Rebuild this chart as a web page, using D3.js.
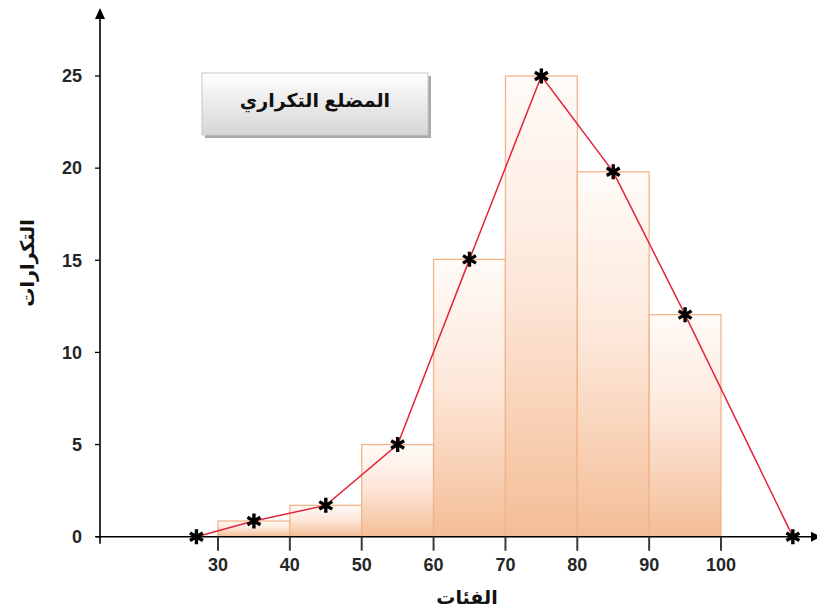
<!DOCTYPE html>
<html>
<head>
<meta charset="utf-8">
<script src="https://cdn.jsdelivr.net/npm/d3@7"></script>
<style>
  html, body { margin: 0; padding: 0; background: #ffffff; }
  svg { display: block; }
  text { font-family: Arial, "Liberation Sans", "DejaVu Sans", sans-serif; }
</style>
</head>
<body>
<svg id="chart" width="817" height="615"></svg>
<script>
// ---- data ----
const classEdges = [30, 40, 50, 60, 70, 80, 90, 100];
const frequencies = [0.85, 1.7, 5, 15.05, 25, 19.8, 12.05];
const polygonX = [27, 35, 45, 55, 65, 75, 85, 95, 110];
const polygonY = [0, 0.85, 1.7, 5, 15.05, 25, 19.8, 12.05, 0];
const xTicks = [30, 40, 50, 60, 70, 80, 90, 100];
const yTicks = [0, 5, 10, 15, 20, 25];
const chartTitle = "المضلع التكراري";
const xTitle = "الفئات";
const yTitle = "التكرارات";

const svg = d3.select("#chart");
svg.append("rect").attr("width", 817).attr("height", 615).attr("fill", "#ffffff");

const x = d3.scaleLinear().domain([30, 100]).range([218, 721]);
const y = d3.scaleLinear().domain([0, 25]).range([536.7, 76]);
const axisX = 100;          // pixel position of y axis
const axisRight = 817;      // end of x axis arrow

const defs = svg.append("defs");
const grad = defs.append("linearGradient").attr("id", "barGrad")
  .attr("x1", 0).attr("y1", 0).attr("x2", 0).attr("y2", 1);
grad.append("stop").attr("offset", "0%").attr("stop-color", "#fffbf8");
grad.append("stop").attr("offset", "45%").attr("stop-color", "#fde8da");
grad.append("stop").attr("offset", "100%").attr("stop-color", "#f4bd96");

const boxGrad = defs.append("linearGradient").attr("id", "boxGrad")
  .attr("x1", 0).attr("y1", 0).attr("x2", 0).attr("y2", 1);
boxGrad.append("stop").attr("offset", "0%").attr("stop-color", "#ffffff");
boxGrad.append("stop").attr("offset", "100%").attr("stop-color", "#d6d6d6");

// ---- bars ----
const bars = frequencies.map((f, i) => ({ x0: classEdges[i], x1: classEdges[i + 1], f }));
svg.append("g").selectAll("rect").data(bars).join("rect")
  .attr("x", d => x(d.x0))
  .attr("y", d => y(d.f))
  .attr("width", d => x(d.x1) - x(d.x0))
  .attr("height", d => y(0) - y(d.f))
  .attr("fill", "url(#barGrad)")
  .attr("stroke", "#f2b48a")
  .attr("stroke-width", 1.3);

// ---- x axis ----
const gx = svg.append("g");
gx.append("line")
  .attr("x1", axisX - 4).attr("x2", axisRight - 6)
  .attr("y1", y(0)).attr("y2", y(0))
  .attr("stroke", "#000").attr("stroke-width", 1.6);
gx.append("path")
  .attr("d", `M${axisRight - 6},${y(0) - 5}L${axisRight + 4},${y(0)}L${axisRight - 6},${y(0) + 5}Z`)
  .attr("fill", "#000");
gx.selectAll("line.tick").data(xTicks).join("line").attr("class", "tick")
  .attr("x1", d => x(d)).attr("x2", d => x(d))
  .attr("y1", y(0)).attr("y2", y(0) + 14)
  .attr("stroke", "#3a3a3a").attr("stroke-width", 2);
gx.selectAll("text").data(xTicks).join("text")
  .attr("x", d => x(d)).attr("y", y(0) + 34)
  .attr("text-anchor", "middle")
  .attr("font-size", 18).attr("font-weight", "bold").attr("fill", "#262626")
  .text(d => d);

// ---- y axis ----
const gy = svg.append("g");
gy.append("line")
  .attr("x1", axisX).attr("x2", axisX)
  .attr("y1", y(0) + 7).attr("y2", 17)
  .attr("stroke", "#000").attr("stroke-width", 1.6);
gy.append("path")
  .attr("d", `M${axisX - 5},${19}L${axisX},${8}L${axisX + 5},${19}Z`)
  .attr("fill", "#000");
gy.selectAll("line.tick").data(yTicks).join("line").attr("class", "tick")
  .attr("x1", axisX - 5).attr("x2", axisX)
  .attr("y1", d => y(d)).attr("y2", d => y(d))
  .attr("stroke", "#000").attr("stroke-width", 1.3);
gy.selectAll("text").data(yTicks).join("text")
  .attr("x", axisX - 18).attr("y", d => y(d))
  .attr("dy", "0.35em")
  .attr("text-anchor", "end")
  .attr("font-size", 18).attr("font-weight", "bold").attr("fill", "#262626")
  .text(d => d);

// ---- frequency polygon ----
const pts = polygonX.map((v, i) => [v, polygonY[i]]);
svg.append("path")
  .datum(pts)
  .attr("d", d3.line().x(d => x(d[0])).y(d => y(d[1])))
  .attr("fill", "none")
  .attr("stroke", "#e3243c")
  .attr("stroke-width", 1.5);

const starPath = (r) => {
  const p = d3.path();
  const t = r / 2, u = t * Math.sqrt(3);
  p.moveTo(0, r); p.lineTo(0, -r);
  p.moveTo(-u, -t); p.lineTo(u, t);
  p.moveTo(-u, t); p.lineTo(u, -t);
  return p.toString();
};
svg.append("g").selectAll("path").data(pts).join("path")
  .attr("transform", d => `translate(${x(d[0])},${y(d[1])})`)
  .attr("d", starPath(7.5))
  .attr("fill", "none")
  .attr("stroke", "#000")
  .attr("stroke-width", 3.4);

// ---- title box ----
const box = svg.append("g");
box.append("rect").attr("x", 205).attr("y", 76).attr("width", 226).attr("height", 62)
  .attr("fill", "#8c8c8c").attr("opacity", 0.75);
box.append("rect").attr("x", 202).attr("y", 73).attr("width", 226).attr("height", 62)
  .attr("fill", "url(#boxGrad)").attr("stroke", "#c8c8c8").attr("stroke-width", 1);
box.append("text").attr("x", 315).attr("y", 100)
  .attr("dy", "0.35em").attr("text-anchor", "middle")
  .attr("font-size", 19).attr("font-weight", "bold").attr("fill", "#111")
  .text(chartTitle);

// ---- axis titles ----
svg.append("text").attr("x", 467).attr("y", 597)
  .attr("dy", "0.35em").attr("text-anchor", "middle")
  .attr("font-size", 19).attr("font-weight", "bold").attr("fill", "#111")
  .text(xTitle);
svg.append("text")
  .attr("transform", "translate(27,263) rotate(-90)")
  .attr("dy", "0.35em").attr("text-anchor", "middle")
  .attr("font-size", 19).attr("font-weight", "bold").attr("fill", "#111")
  .text(yTitle);
</script>
</body>
</html>
